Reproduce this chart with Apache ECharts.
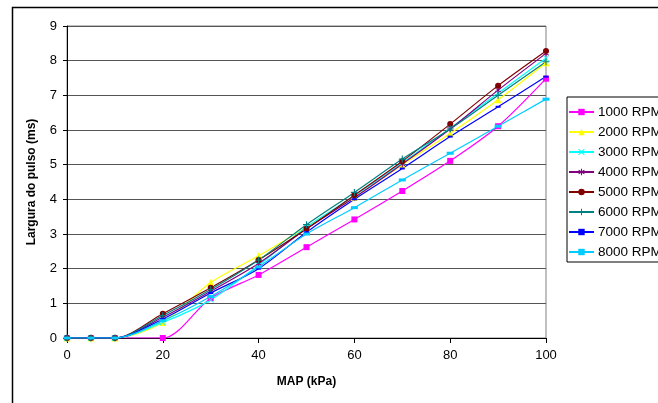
<!DOCTYPE html>
<html><head><meta charset="utf-8">
<script src="https://cdn.jsdelivr.net/npm/echarts@6/dist/echarts.min.js"></script>
<style>html,body{margin:0;padding:0;background:#fff}#c{width:658px;height:403px}</style>
</head><body><div id="c"></div>
<script>
const mapKPa = [0, 5, 10, 20, 30, 40, 50, 60, 70, 80, 90, 100];
const rpm1000 = [0, 0, 0, 0, 1.15, 1.82, 2.62, 3.42, 4.24, 5.11, 6.11, 7.48];
const rpm2000 = [0, 0, 0, 0.45, 1.6, 2.37, 3.2, 4.05, 5.0, 5.9, 6.87, 7.94];
const rpm3000 = [0, 0, 0, 0.45, 1.1, 2.1, 3.2, 4.1, 5.05, 6.05, 7.06, 8.07];
const rpm4000 = [0, 0, 0, 0.6, 1.35, 2.15, 3.15, 4.05, 5.02, 6.03, 7.15, 8.21];
const rpm5000 = [0, 0, 0, 0.7, 1.45, 2.25, 3.15, 4.12, 5.1, 6.17, 7.28, 8.28];
const rpm6000 = [0, 0, 0, 0.65, 1.4, 2.25, 3.27, 4.2, 5.16, 6.03, 7.0, 7.97];
const rpm7000 = [0, 0, 0, 0.55, 1.3, 2.0, 3.05, 4.0, 4.89, 5.81, 6.67, 7.54];
const rpm8000 = [0, 0, 0, 0.5, 1.2, 2.05, 3.0, 3.76, 4.56, 5.33, 6.11, 6.89];
const seriesNames = ['1000 RPM','2000 RPM','3000 RPM','4000 RPM','5000 RPM','6000 RPM','7000 RPM','8000 RPM'];
const seriesData = [rpm1000, rpm2000, rpm3000, rpm4000, rpm5000, rpm6000, rpm7000, rpm8000];
const colors = ['#FF00FF','#FFFF00','#00FFFF','#800080','#800000','#008080','#0000FF','#00CCFF'];

const X = 'path://M0,1 L1,0 L5,4 L9,0 L10,1 L6,5 L10,9 L9,10 L5,6 L1,10 L0,9 L4,5 Z';
const STAR = 'path://M4.3,0 H5.7 V3.3 L8.6,1.6 L9.3,2.8 L6.4,4.5 V5.5 L9.3,7.2 L8.6,8.4 L5.7,6.7 V10 H4.3 V6.7 L1.4,8.4 L0.7,7.2 L3.6,5.5 V4.5 L0.7,2.8 L1.4,1.6 L4.3,3.3 Z';
const PLUS = 'path://M4.2,0 H5.8 V4.2 H10 V5.8 H5.8 V10 H4.2 V5.8 H0 V4.2 H4.2 Z';
const symbols = ['rect','triangle',X,STAR,'circle',PLUS,'rect','rect'];
const sizes = [6,7,6,6,6,7,[5,2],[7,3]];

const series = seriesNames.map((n,i)=>({
  name:n, type:'line', smooth:0.3, data: mapKPa.map((x,j)=>[x, seriesData[i][j]]),
  symbol: symbols[i], symbolSize: sizes[i], showSymbol:true,
  lineStyle:{color:colors[i], width:1.2},
  itemStyle:{color:colors[i], borderWidth:0},
  emphasis:{disabled:true}, animation:false
}));

const chart = echarts.init(document.getElementById('c'), null, {renderer:'canvas'});
chart.setOption({
  animation:false,
  textStyle:{fontFamily:'Liberation Sans, Arial, sans-serif'},
  graphic:[{type:'rect', shape:{x:12.5,y:7.5,width:700,height:450}, style:{fill:'none', stroke:'#000', lineWidth:1.5}, z:-10}],
  grid:{left:67, top:26, width:479, height:312, show:true, borderColor:'#808080', borderWidth:1, backgroundColor:'#fff'},
  xAxis:{type:'value', min:0, max:100, interval:20,
    name:'MAP (kPa)', nameLocation:'middle', nameGap:38,
    nameTextStyle:{fontWeight:'bold', fontSize:12, color:'#000'},
    axisLine:{onZero:false, lineStyle:{color:'#000', width:1}},
    axisTick:{show:true, inside:false, length:5, lineStyle:{color:'#000'}},
    axisLabel:{color:'#000', fontSize:13, margin:11},
    splitLine:{show:false}},
  yAxis:{type:'value', min:0, max:9, interval:1,
    name:'Largura do pulso (ms)', nameLocation:'middle', nameGap:29,
    nameTextStyle:{fontWeight:'bold', fontSize:12, color:'#000'},
    axisLine:{show:true, lineStyle:{color:'#000', width:1}},
    axisTick:{show:true, length:4, lineStyle:{color:'#000'}},
    axisLabel:{color:'#000', fontSize:13, margin:10},
    splitLine:{show:true, lineStyle:{color:'#555', width:1}}},
  legend:{orient:'vertical', left:567, top:97, itemWidth:25, itemHeight:8, itemGap:6,
    padding:[8,10,3,1], borderColor:'#000', borderWidth:1, backgroundColor:'#fff',
    textStyle:{fontSize:13.5, lineHeight:14, color:'#000', padding:[0,0,0,-1]},
    data:seriesNames},
  series: series
});
</script></body></html>
